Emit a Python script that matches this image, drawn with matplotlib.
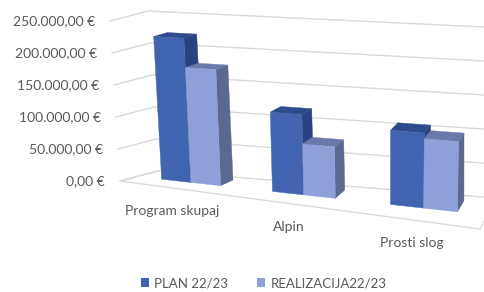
import numpy as np
import matplotlib
matplotlib.use("Agg")
import matplotlib.pyplot as plt
from matplotlib.patches import Polygon, Patch

# ---------------- data ----------------
categories = ["Program skupaj", "Alpin", "Prosti slog"]
series_names = ["PLAN 22/23", "REALIZACIJA22/23"]
plan = [221000, 118000, 106000]
realizacija = [176000, 75000, 98000]
y_ticks = [0, 50000, 100000, 150000, 200000, 250000]

# ---------------- style / layout ----------------
W, H = 485, 292
FONT = ["Lato", "DejaVu Sans"]
TXT = "#595959"
GRID = "#d9d9d9"
face_cols = {
    "PLAN 22/23": ("#4164b0", "#2e4b8c", "#2a4280"),
    "REALIZACIJA22/23": ("#8f9fd8", "#6b79a8", "#5b6890"),
}
# 3-D box corners in pixel space: (u, depth, value) -> (x, y)
CORN = {
    (0, 0, 0): (120, 181), (0, 0, 1): (110, 21),
    (0, 1, 0): (158, 171), (0, 1, 1): (148, 11),
    (1, 0, 0): (480, 229), (1, 0, 1): (487, 40),
    (1, 1, 0): (495, 198), (1, 1, 1): (495, 27.5),
}
PERSP = 1.1
BAR_W = 0.27
D0, D1 = 0.45, 0.83
VMAX = y_ticks[-1]


def proj(X, d, value):
    u = X / len(categories)
    w = u / (PERSP - (PERSP - 1) * u)
    v = value / VMAX
    x = y = 0.0
    for (a, b, c), (px, py) in CORN.items():
        wt = (w if a else 1 - w) * (d if b else 1 - d) * (v if c else 1 - v)
        x += wt * px
        y += wt * py
    return (x, y)


def euro(v):
    s = f"{v:,.2f}".replace(",", "X").replace(".", ",").replace("X", ".")
    return s + " €"


fig = plt.figure(figsize=(W / 100, H / 100), dpi=100)
ax = fig.add_axes([0, 0, 1, 1])
ax.set_xlim(0, W)
ax.set_ylim(H, 0)
ax.axis("off")

n = len(categories)
# gridlines: side wall + back wall
for t in y_ticks:
    p0 = proj(0, 0, t)
    p1 = proj(0, 1, t)
    p2 = proj(n, 1, t)
    ax.plot([p0[0], p1[0], p2[0]], [p0[1], p1[1], p2[1]], color=GRID, lw=1.0,
            solid_joinstyle="miter", zorder=1)
    ax.text(p0[0] - 15, p0[1], euro(t), ha="right", va="center", fontsize=10,
            color=TXT, family=FONT)
# floor outline
fl = [proj(0, 1, 0), proj(0, 0, 0), proj(n, 0, 0), proj(n, 1, 0)]
ax.plot([p[0] for p in fl], [p[1] for p in fl], color=GRID, lw=1.0, zorder=1)

# bars
series = [plan, realizacija]
z = 3
for i, cat in enumerate(categories):
    c = i + 0.5
    for s, (name, vals) in enumerate(zip(series_names, series)):
        x0 = c - BAR_W + s * BAR_W
        x1 = x0 + BAR_W
        h = vals[i]
        front_c, top_c, side_c = face_cols[name]
        front = [proj(x0, D0, 0), proj(x1, D0, 0), proj(x1, D0, h), proj(x0, D0, h)]
        side = [proj(x1, D0, 0), proj(x1, D1, 0), proj(x1, D1, h), proj(x1, D0, h)]
        top = [proj(x0, D0, h), proj(x1, D0, h), proj(x1, D1, h), proj(x0, D1, h)]
        for poly, col in ((side, side_c), (top, top_c), (front, front_c)):
            ax.add_patch(Polygon(poly, closed=True, facecolor=col, edgecolor=col,
                                 lw=0.3, zorder=z))
        z += 1
    lp = proj(c, 0, 0)
    ax.text(lp[0] - 3, lp[1] + 23, cat, ha="center", va="center", fontsize=10,
            color=TXT, family=FONT)

handles = [Patch(facecolor=face_cols[nm][0], edgecolor="none") for nm in series_names]
leg = fig.legend(handles, series_names, loc="center", bbox_to_anchor=(0.544, 0.03),
                 ncol=2, frameon=False, handlelength=0.6, handleheight=0.6,
                 handletextpad=0.4, columnspacing=2.2,
                 prop={"family": FONT, "size": 9.5})
for t in leg.get_texts():
    t.set_color(TXT)

fig.savefig("out.png", dpi=100)
